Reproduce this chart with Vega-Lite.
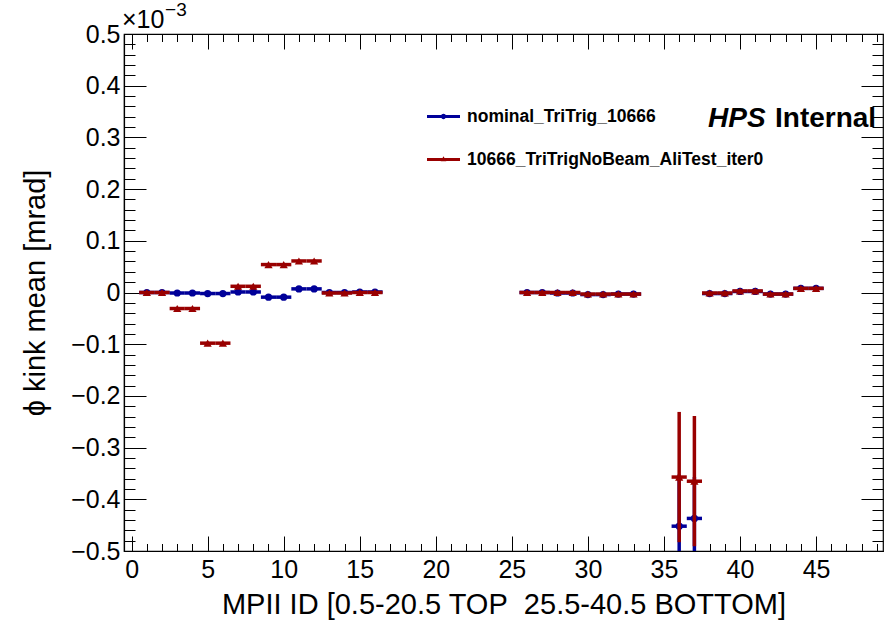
{
  "$schema": "https://vega.github.io/schema/vega-lite/v6.json",
  "width": 759,
  "height": 517,
  "autosize": "none",
  "padding": {"left": 124, "top": 34, "right": 8, "bottom": 69},
  "background": "white",
  "config": {
    "font": "Liberation Sans",
    "view": {"stroke": "black", "strokeWidth": 1.2}
  },
  "datasets": {
    "kinks": [
      {"id": 1, "series": "nominal_TriTrig_10666", "mean": 0.000, "xerr": 0.5, "err": 0.002},
      {"id": 2, "series": "nominal_TriTrig_10666", "mean": 0.000, "xerr": 0.5, "err": 0.002},
      {"id": 3, "series": "nominal_TriTrig_10666", "mean": -0.001, "xerr": 0.5, "err": 0.002},
      {"id": 4, "series": "nominal_TriTrig_10666", "mean": -0.001, "xerr": 0.5, "err": 0.002},
      {"id": 5, "series": "nominal_TriTrig_10666", "mean": -0.002, "xerr": 0.5, "err": 0.002},
      {"id": 6, "series": "nominal_TriTrig_10666", "mean": -0.002, "xerr": 0.5, "err": 0.002},
      {"id": 7, "series": "nominal_TriTrig_10666", "mean": 0.001, "xerr": 0.5, "err": 0.002},
      {"id": 8, "series": "nominal_TriTrig_10666", "mean": 0.001, "xerr": 0.5, "err": 0.002},
      {"id": 9, "series": "nominal_TriTrig_10666", "mean": -0.009, "xerr": 0.5, "err": 0.002},
      {"id": 10, "series": "nominal_TriTrig_10666", "mean": -0.009, "xerr": 0.5, "err": 0.002},
      {"id": 11, "series": "nominal_TriTrig_10666", "mean": 0.007, "xerr": 0.5, "err": 0.002},
      {"id": 12, "series": "nominal_TriTrig_10666", "mean": 0.007, "xerr": 0.5, "err": 0.002},
      {"id": 13, "series": "nominal_TriTrig_10666", "mean": 0.000, "xerr": 0.5, "err": 0.002},
      {"id": 14, "series": "nominal_TriTrig_10666", "mean": 0.000, "xerr": 0.5, "err": 0.002},
      {"id": 15, "series": "nominal_TriTrig_10666", "mean": 0.001, "xerr": 0.5, "err": 0.002},
      {"id": 16, "series": "nominal_TriTrig_10666", "mean": 0.001, "xerr": 0.5, "err": 0.002},
      {"id": 26, "series": "nominal_TriTrig_10666", "mean": 0.000, "xerr": 0.5, "err": 0.002},
      {"id": 27, "series": "nominal_TriTrig_10666", "mean": 0.000, "xerr": 0.5, "err": 0.002},
      {"id": 28, "series": "nominal_TriTrig_10666", "mean": -0.001, "xerr": 0.5, "err": 0.002},
      {"id": 29, "series": "nominal_TriTrig_10666", "mean": -0.001, "xerr": 0.5, "err": 0.002},
      {"id": 30, "series": "nominal_TriTrig_10666", "mean": -0.004, "xerr": 0.5, "err": 0.002},
      {"id": 31, "series": "nominal_TriTrig_10666", "mean": -0.004, "xerr": 0.5, "err": 0.002},
      {"id": 32, "series": "nominal_TriTrig_10666", "mean": -0.003, "xerr": 0.5, "err": 0.002},
      {"id": 33, "series": "nominal_TriTrig_10666", "mean": -0.003, "xerr": 0.5, "err": 0.002},
      {"id": 36, "series": "nominal_TriTrig_10666", "mean": -0.452, "xerr": 0.5, "err": 0.100},
      {"id": 37, "series": "nominal_TriTrig_10666", "mean": -0.437, "xerr": 0.5, "err": 0.080},
      {"id": 38, "series": "nominal_TriTrig_10666", "mean": -0.002, "xerr": 0.5, "err": 0.002},
      {"id": 39, "series": "nominal_TriTrig_10666", "mean": -0.002, "xerr": 0.5, "err": 0.002},
      {"id": 40, "series": "nominal_TriTrig_10666", "mean": 0.002, "xerr": 0.5, "err": 0.002},
      {"id": 41, "series": "nominal_TriTrig_10666", "mean": 0.002, "xerr": 0.5, "err": 0.002},
      {"id": 42, "series": "nominal_TriTrig_10666", "mean": -0.003, "xerr": 0.5, "err": 0.002},
      {"id": 43, "series": "nominal_TriTrig_10666", "mean": -0.003, "xerr": 0.5, "err": 0.002},
      {"id": 44, "series": "nominal_TriTrig_10666", "mean": 0.008, "xerr": 0.5, "err": 0.002},
      {"id": 45, "series": "nominal_TriTrig_10666", "mean": 0.008, "xerr": 0.5, "err": 0.002},

      {"id": 1, "series": "10666_TriTrigNoBeam_AliTest_iter0", "mean": 0.000, "xerr": 0.5, "err": 0.002},
      {"id": 2, "series": "10666_TriTrigNoBeam_AliTest_iter0", "mean": 0.000, "xerr": 0.5, "err": 0.002},
      {"id": 3, "series": "10666_TriTrigNoBeam_AliTest_iter0", "mean": -0.031, "xerr": 0.5, "err": 0.002},
      {"id": 4, "series": "10666_TriTrigNoBeam_AliTest_iter0", "mean": -0.031, "xerr": 0.5, "err": 0.002},
      {"id": 5, "series": "10666_TriTrigNoBeam_AliTest_iter0", "mean": -0.098, "xerr": 0.5, "err": 0.002},
      {"id": 6, "series": "10666_TriTrigNoBeam_AliTest_iter0", "mean": -0.098, "xerr": 0.5, "err": 0.002},
      {"id": 7, "series": "10666_TriTrigNoBeam_AliTest_iter0", "mean": 0.012, "xerr": 0.5, "err": 0.002},
      {"id": 8, "series": "10666_TriTrigNoBeam_AliTest_iter0", "mean": 0.012, "xerr": 0.5, "err": 0.002},
      {"id": 9, "series": "10666_TriTrigNoBeam_AliTest_iter0", "mean": 0.054, "xerr": 0.5, "err": 0.002},
      {"id": 10, "series": "10666_TriTrigNoBeam_AliTest_iter0", "mean": 0.054, "xerr": 0.5, "err": 0.002},
      {"id": 11, "series": "10666_TriTrigNoBeam_AliTest_iter0", "mean": 0.061, "xerr": 0.5, "err": 0.002},
      {"id": 12, "series": "10666_TriTrigNoBeam_AliTest_iter0", "mean": 0.061, "xerr": 0.5, "err": 0.002},
      {"id": 13, "series": "10666_TriTrigNoBeam_AliTest_iter0", "mean": -0.001, "xerr": 0.5, "err": 0.002},
      {"id": 14, "series": "10666_TriTrigNoBeam_AliTest_iter0", "mean": -0.001, "xerr": 0.5, "err": 0.002},
      {"id": 15, "series": "10666_TriTrigNoBeam_AliTest_iter0", "mean": 0.000, "xerr": 0.5, "err": 0.002},
      {"id": 16, "series": "10666_TriTrigNoBeam_AliTest_iter0", "mean": 0.000, "xerr": 0.5, "err": 0.002},
      {"id": 26, "series": "10666_TriTrigNoBeam_AliTest_iter0", "mean": 0.000, "xerr": 0.5, "err": 0.002},
      {"id": 27, "series": "10666_TriTrigNoBeam_AliTest_iter0", "mean": 0.000, "xerr": 0.5, "err": 0.002},
      {"id": 28, "series": "10666_TriTrigNoBeam_AliTest_iter0", "mean": 0.000, "xerr": 0.5, "err": 0.002},
      {"id": 29, "series": "10666_TriTrigNoBeam_AliTest_iter0", "mean": 0.000, "xerr": 0.5, "err": 0.002},
      {"id": 30, "series": "10666_TriTrigNoBeam_AliTest_iter0", "mean": -0.003, "xerr": 0.5, "err": 0.002},
      {"id": 31, "series": "10666_TriTrigNoBeam_AliTest_iter0", "mean": -0.003, "xerr": 0.5, "err": 0.002},
      {"id": 32, "series": "10666_TriTrigNoBeam_AliTest_iter0", "mean": -0.003, "xerr": 0.5, "err": 0.002},
      {"id": 33, "series": "10666_TriTrigNoBeam_AliTest_iter0", "mean": -0.003, "xerr": 0.5, "err": 0.002},
      {"id": 36, "series": "10666_TriTrigNoBeam_AliTest_iter0", "mean": -0.357, "xerr": 0.5, "err": 0.126},
      {"id": 37, "series": "10666_TriTrigNoBeam_AliTest_iter0", "mean": -0.365, "xerr": 0.5, "err": 0.126},
      {"id": 38, "series": "10666_TriTrigNoBeam_AliTest_iter0", "mean": -0.001, "xerr": 0.5, "err": 0.002},
      {"id": 39, "series": "10666_TriTrigNoBeam_AliTest_iter0", "mean": -0.001, "xerr": 0.5, "err": 0.002},
      {"id": 40, "series": "10666_TriTrigNoBeam_AliTest_iter0", "mean": 0.003, "xerr": 0.5, "err": 0.002},
      {"id": 41, "series": "10666_TriTrigNoBeam_AliTest_iter0", "mean": 0.003, "xerr": 0.5, "err": 0.002},
      {"id": 42, "series": "10666_TriTrigNoBeam_AliTest_iter0", "mean": -0.003, "xerr": 0.5, "err": 0.002},
      {"id": 43, "series": "10666_TriTrigNoBeam_AliTest_iter0", "mean": -0.003, "xerr": 0.5, "err": 0.002},
      {"id": 44, "series": "10666_TriTrigNoBeam_AliTest_iter0", "mean": 0.008, "xerr": 0.5, "err": 0.002},
      {"id": 45, "series": "10666_TriTrigNoBeam_AliTest_iter0", "mean": 0.008, "xerr": 0.5, "err": 0.002}
    ]
  },
  "data": {"name": "kinks"},
  "layer": [
    {
      "transform": [{"filter": {"field": "series", "equal": "nominal_TriTrig_10666"}}],
      "encoding": {
        "x": {
          "field": "id", "type": "quantitative",
          "title": "MPII ID [0.5-20.5 TOP\u00a0 25.5-40.5 BOTTOM]",
          "scale": {"domain": [-0.5, 49.4], "nice": false, "zero": false},
          "axis": {
            "orient": "bottom", "grid": false,
            "values": [0,1,2,3,4,5,6,7,8,9,10,11,12,13,14,15,16,17,18,19,20,21,22,23,24,25,26,27,28,29,30,31,32,33,34,35,36,37,38,39,40,41,42,43,44,45,46,47,48,49],
            "format": "d",
            "labelExpr": "datum.value % 5 === 0 ? datum.label : ''",
            "tickSize": {"condition": {"test": "datum.value % 5 === 0", "value": -15}, "value": -7.5},
            "tickColor": "black", "tickWidth": 1,
            "domainColor": "black", "domainWidth": 1.2,
            "labelFont": "Liberation Sans", "labelFontSize": 25, "labelColor": "black",
            "labelPadding": 21, "labelOverlap": false, "labelFlush": false,
            "titleFont": "Liberation Sans", "titleFontSize": 29, "titleFontWeight": "normal",
            "titleColor": "black", "titlePadding": 1
          }
        },
        "y": {
          "field": "mean", "type": "quantitative",
          "title": "ϕ kink mean [mrad]",
          "scale": {"domain": [-0.5, 0.5], "nice": false, "zero": false},
          "axis": {
            "orient": "left", "grid": false,
            "values": [-0.5,-0.48,-0.46,-0.44,-0.42,-0.4,-0.38,-0.36,-0.34,-0.32,-0.3,-0.28,-0.26,-0.24,-0.22,-0.2,-0.18,-0.16,-0.14,-0.12,-0.1,-0.08,-0.06,-0.04,-0.02,0,0.02,0.04,0.06,0.08,0.1,0.12,0.14,0.16,0.18,0.2,0.22,0.24,0.26,0.28,0.3,0.32,0.34,0.36,0.38,0.4,0.42,0.44,0.46,0.48,0.5],
            "labelExpr": "abs(datum.value * 10 - round(datum.value * 10)) < 0.001 ? (abs(datum.value) < 0.001 ? '0' : format(datum.value, '.1f')) : ''",
            "tickSize": {"condition": {"test": "abs(datum.value * 10 - round(datum.value * 10)) < 0.001", "value": -22}, "value": -11},
            "tickColor": "black", "tickWidth": 1,
            "domainColor": "black", "domainWidth": 1.2,
            "labelFont": "Liberation Sans", "labelFontSize": 25, "labelColor": "black",
            "labelPadding": 26, "labelOverlap": false, "labelFlush": false,
            "titleFont": "Liberation Sans", "titleFontSize": 29, "titleFontWeight": "normal",
            "titleColor": "black", "titlePadding": 20
          }
        }
      },
      "layer": [
        {
          "mark": {"type": "errorbar", "color": "#000099", "thickness": 3.5, "clip": true},
          "encoding": {"xError": {"field": "xerr"}}
        },
        {
          "mark": {"type": "errorbar", "color": "#000099", "thickness": 3.5, "clip": true},
          "encoding": {"yError": {"field": "err"}}
        },
        {
          "mark": {"type": "point", "shape": "circle", "filled": true, "size": 52, "opacity": 1, "clip": true},
          "encoding": {
            "color": {
              "field": "series", "type": "nominal",
              "scale": {"domain": ["nominal_TriTrig_10666"], "range": ["#000099"]},
              "legend": {
                "orient": "none", "legendX": 303, "legendY": 66, "title": null, "padding": 0,
                "symbolType": "M-1,-0.09L1,-0.09L1,0.09L-1,0.09Z M0.16,0A0.16,0.16,0,1,1,-0.16,0A0.16,0.16,0,1,1,0.16,0Z",
                "symbolSize": 1089, "symbolFillColor": "#000099", "symbolStrokeWidth": 0,
                "labelFont": "Liberation Sans", "labelFontWeight": "bold", "labelFontSize": 17.5,
                "labelColor": "black", "labelOffset": 7, "labelLimit": 0
              }
            }
          }
        }
      ]
    },
    {
      "transform": [{"filter": {"field": "series", "equal": "10666_TriTrigNoBeam_AliTest_iter0"}}],
      "encoding": {
        "x": {
          "field": "id", "type": "quantitative", "title": null,
          "scale": {"domain": [-0.5, 49.4], "nice": false, "zero": false},
          "axis": {
            "orient": "top", "grid": false, "labels": false, "domain": false,
            "values": [0,1,2,3,4,5,6,7,8,9,10,11,12,13,14,15,16,17,18,19,20,21,22,23,24,25,26,27,28,29,30,31,32,33,34,35,36,37,38,39,40,41,42,43,44,45,46,47,48,49],
            "tickSize": {"condition": {"test": "datum.value % 5 === 0", "value": -15}, "value": -7.5},
            "tickColor": "black", "tickWidth": 1
          }
        },
        "y": {
          "field": "mean", "type": "quantitative", "title": null,
          "scale": {"domain": [-0.5, 0.5], "nice": false, "zero": false},
          "axis": {
            "orient": "right", "grid": false, "labels": false, "domain": false,
            "values": [-0.5,-0.48,-0.46,-0.44,-0.42,-0.4,-0.38,-0.36,-0.34,-0.32,-0.3,-0.28,-0.26,-0.24,-0.22,-0.2,-0.18,-0.16,-0.14,-0.12,-0.1,-0.08,-0.06,-0.04,-0.02,0,0.02,0.04,0.06,0.08,0.1,0.12,0.14,0.16,0.18,0.2,0.22,0.24,0.26,0.28,0.3,0.32,0.34,0.36,0.38,0.4,0.42,0.44,0.46,0.48,0.5],
            "tickSize": {"condition": {"test": "abs(datum.value * 10 - round(datum.value * 10)) < 0.001", "value": -22}, "value": -11},
            "tickColor": "black", "tickWidth": 1
          }
        }
      },
      "layer": [
        {
          "mark": {"type": "errorbar", "color": "#990000", "thickness": 3.5, "clip": true},
          "encoding": {"xError": {"field": "xerr"}}
        },
        {
          "mark": {"type": "errorbar", "color": "#990000", "thickness": 3.5, "clip": true},
          "encoding": {"yError": {"field": "err"}}
        },
        {
          "mark": {"type": "point", "shape": "triangle-up", "filled": true, "size": 68, "opacity": 1, "clip": true},
          "encoding": {
            "color": {
              "field": "series", "type": "nominal",
              "scale": {"domain": ["10666_TriTrigNoBeam_AliTest_iter0"], "range": ["#990000"]},
              "legend": {
                "orient": "none", "legendX": 303, "legendY": 109, "title": null, "padding": 0,
                "symbolType": "M-1,-0.09L1,-0.09L1,0.09L-1,0.09Z M0,-0.2L0.17,0.1L-0.17,0.1Z",
                "symbolSize": 1089, "symbolFillColor": "#990000", "symbolStrokeWidth": 0,
                "labelFont": "Liberation Sans", "labelFontWeight": "bold", "labelFontSize": 17.5,
                "labelColor": "black", "labelOffset": 7, "labelLimit": 0
              }
            }
          }
        }
      ]
    },
    {
      "data": {"values": [{}]},
      "mark": {"type": "text", "text": "HPS", "font": "Liberation Sans", "fontStyle": "italic", "fontWeight": "bold", "fontSize": 28, "align": "left", "baseline": "alphabetic", "color": "black"},
      "encoding": {
        "x": {"datum": 37.9, "type": "quantitative", "axis": null, "scale": {"domain": [-0.5, 49.4], "nice": false, "zero": false}},
        "y": {"datum": 0.32, "type": "quantitative", "axis": null, "scale": {"domain": [-0.5, 0.5], "nice": false, "zero": false}}
      }
    },
    {
      "data": {"values": [{}]},
      "mark": {"type": "text", "text": "Internal", "font": "Liberation Sans", "fontWeight": "bold", "fontSize": 28, "align": "left", "baseline": "alphabetic", "color": "black"},
      "encoding": {
        "x": {"datum": 42.3, "type": "quantitative", "axis": null, "scale": {"domain": [-0.5, 49.4], "nice": false, "zero": false}},
        "y": {"datum": 0.32, "type": "quantitative", "axis": null, "scale": {"domain": [-0.5, 0.5], "nice": false, "zero": false}}
      }
    },
    {
      "data": {"values": [{}]},
      "mark": {"type": "text", "text": "×10", "font": "Liberation Sans", "fontSize": 25, "align": "left", "baseline": "alphabetic", "color": "black"},
      "encoding": {
        "x": {"datum": -0.63, "type": "quantitative", "axis": null, "scale": {"domain": [-0.5, 49.4], "nice": false, "zero": false}},
        "y": {"datum": 0.512, "type": "quantitative", "axis": null, "scale": {"domain": [-0.5, 0.5], "nice": false, "zero": false}}
      }
    },
    {
      "data": {"values": [{}]},
      "mark": {"type": "text", "text": "−3", "font": "Liberation Sans", "fontSize": 19, "align": "left", "baseline": "alphabetic", "color": "black"},
      "encoding": {
        "x": {"datum": 2.2, "type": "quantitative", "axis": null, "scale": {"domain": [-0.5, 49.4], "nice": false, "zero": false}},
        "y": {"datum": 0.535, "type": "quantitative", "axis": null, "scale": {"domain": [-0.5, 0.5], "nice": false, "zero": false}}
      }
    }
  ],
  "resolve": {
    "scale": {"color": "independent"},
    "axis": {"x": "independent", "y": "independent"}
  }
}
